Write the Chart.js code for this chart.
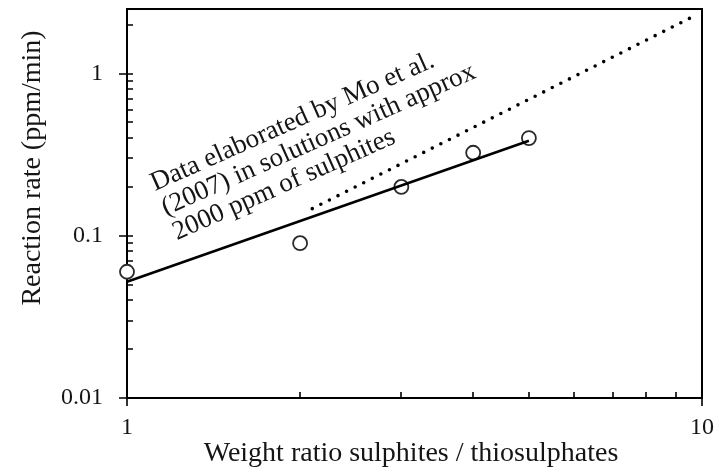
<!DOCTYPE html>
<html>
<head>
<meta charset="utf-8">
<script src="https://cdn.jsdelivr.net/npm/chart.js@4.4.1/dist/chart.umd.min.js"></script>
<style>
  html, body { margin: 0; padding: 0; background: #fff; }
  #wrap { width: 718px; height: 471px; }
</style>
</head>
<body>
<div id="wrap"><canvas id="rate" width="718" height="471"></canvas></div>
<script>
// measured reaction rates
const ratio = [1, 2, 3, 4, 5];
const rate = [0.06, 0.09, 0.2, 0.325, 0.4];

// power-law fit through the measured points
const fitX = [1, 5];
const fitY = [0.052, 0.385];

// Mo et al. (2007), ~2000 ppm sulphites
const moX = [2.1, 9.8];
const moY = [0.147, 2.31];

const xTickLabels = [1, 10];
const yTickLabels = [0.01, 0.1, 1];

const noteLines = [
  'Data elaborated by Mo et al.',
  '(2007) in solutions with approx',
  '2000 ppm of sulphites'
];

const serif = '"Liberation Serif", "Times New Roman", serif';
const ink = '#151515';

function pairs(xs, ys) {
  return xs.map((x, i) => ({ x: x, y: ys[i] }));
}

function pickLabel(list) {
  return function (v) {
    const hit = list.find(t => Math.abs(v - t) / t < 1e-6);
    return hit === undefined ? '' : String(hit);
  };
}

// log decade ticks: 1..9 x 10^e inside [min, max]
function logTicks(min, max) {
  const out = [];
  for (let e = Math.floor(Math.log10(min)); e <= Math.ceil(Math.log10(max)); e++) {
    for (let m = 1; m <= 9; m++) {
      const v = m * Math.pow(10, e);
      if (v >= min * 0.9999 && v <= max * 1.0001) out.push({ v: v, major: m === 1 });
    }
  }
  return out;
}

// fixed axis box, no extra room for label overhang
function fixBox(size) {
  return function (scale) {
    if (scale.isHorizontal()) scale.height = size; else scale.width = size;
    scale.paddingTop = scale.paddingBottom = 0;
    scale.paddingLeft = scale.paddingRight = 0;
  };
}

const framePlugin = {
  id: 'frame',
  beforeDatasetsDraw(chart) {
    const { ctx, chartArea: a, scales } = chart;
    ctx.save();
    ctx.strokeStyle = '#000';
    ctx.lineWidth = 2;
    ctx.strokeRect(a.left, a.top, a.right - a.left, a.bottom - a.top);

    ctx.lineWidth = 1.6;
    ctx.beginPath();
    logTicks(scales.x.min, scales.x.max).forEach(t => {
      const px = Math.round(scales.x.getPixelForValue(t.v));
      if (t.major) {
        ctx.moveTo(px, a.bottom - 6);
        ctx.lineTo(px, a.bottom + 8);
      } else {
        ctx.moveTo(px, a.bottom);
        ctx.lineTo(px, a.bottom - 6);
      }
    });
    logTicks(scales.y.min, scales.y.max).forEach(t => {
      const py = Math.round(scales.y.getPixelForValue(t.v));
      if (t.major) {
        ctx.moveTo(a.left - 8, py);
        ctx.lineTo(a.left + 6, py);
      } else {
        ctx.moveTo(a.left, py);
        ctx.lineTo(a.left + 6, py);
      }
    });
    ctx.stroke();
    ctx.restore();
  },
  afterDraw(chart) {
    const { ctx } = chart;
    ctx.save();
    ctx.fillStyle = ink;

    // axis titles
    ctx.font = '28px ' + serif;
    ctx.textAlign = 'center';
    ctx.textBaseline = 'alphabetic';
    ctx.fillText('Weight ratio sulphites / thiosulphates', 411, 461);

    ctx.save();
    ctx.translate(40, 168);
    ctx.rotate(-Math.PI / 2);
    ctx.fillText('Reaction rate (ppm/min)', 0, 0);
    ctx.restore();

    // slanted note above the lines
    ctx.font = '27px ' + serif;
    ctx.textAlign = 'left';
    ctx.translate(155, 191);
    ctx.rotate(-24 * Math.PI / 180);
    noteLines.forEach((s, i) => ctx.fillText(s, 0, i * 27));
    ctx.restore();
  }
};

new Chart(document.getElementById('rate'), {
  type: 'scatter',
  data: {
    datasets: [
      {
        label: 'Measured',
        data: pairs(ratio, rate),
        showLine: false,
        pointRadius: 7,
        pointHoverRadius: 7,
        pointBorderWidth: 1.8,
        pointBorderColor: '#2a2a2a',
        pointBackgroundColor: '#fff',
        clip: false,
        order: 2
      },
      {
        label: 'Fit',
        data: pairs(fitX, fitY),
        showLine: true,
        borderColor: '#000',
        borderWidth: 2.6,
        pointRadius: 0,
        clip: false,
        order: 1
      },
      {
        label: 'Mo et al. (2007)',
        data: pairs(moX, moY),
        showLine: true,
        borderColor: '#000',
        borderWidth: 3.6,
        borderDash: [0, 9.6],
        borderCapStyle: 'round',
        pointRadius: 0,
        clip: false,
        order: 1
      }
    ]
  },
  options: {
    responsive: false,
    devicePixelRatio: 1,
    animation: false,
    layout: { padding: { top: 9, right: 16, left: 0, bottom: 0 } },
    plugins: {
      legend: { display: false },
      tooltip: { enabled: false }
    },
    scales: {
      x: {
        type: 'logarithmic',
        min: 1,
        max: 10,
        grid: { display: false, drawTicks: false },
        border: { display: false },
        ticks: {
          callback: pickLabel(xTickLabels),
          autoSkip: false,
          maxRotation: 0,
          padding: 15,
          color: ink,
          font: { family: serif, size: 24 }
        },
        afterFit: fixBox(73)
      },
      y: {
        type: 'logarithmic',
        min: 0.01,
        max: 2.5,
        grid: { display: false, drawTicks: false },
        border: { display: false },
        ticks: {
          callback: pickLabel(yTickLabels),
          autoSkip: false,
          padding: 24,
          color: ink,
          font: { family: serif, size: 24 }
        },
        afterFit: fixBox(127)
      }
    }
  },
  plugins: [framePlugin]
});
</script>
</body>
</html>
